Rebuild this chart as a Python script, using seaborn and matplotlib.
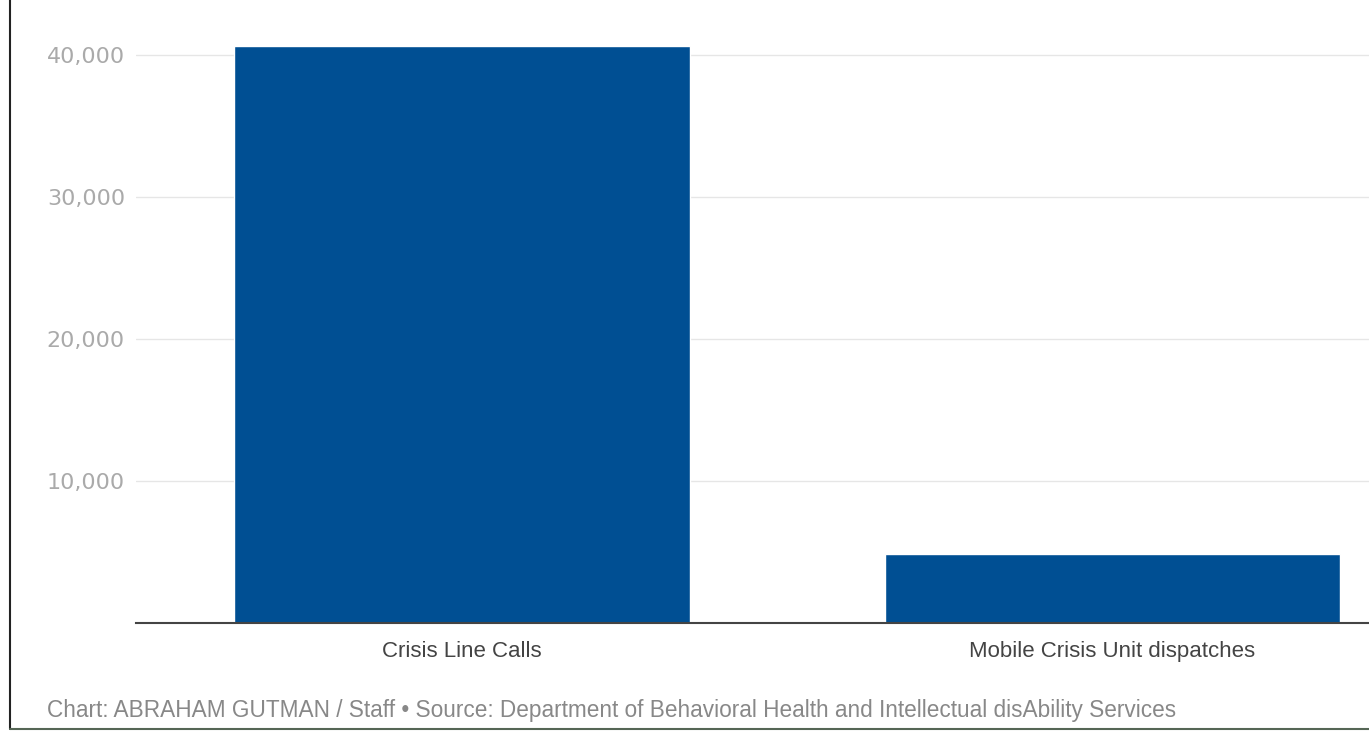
import matplotlib
matplotlib.use("Agg")
import matplotlib.pyplot as plt
import seaborn as sns
import pandas as pd
from matplotlib.lines import Line2D
from matplotlib.ticker import FuncFormatter

categories = ["Crisis Line Calls", "Mobile Crisis Unit dispatches"]
values = [40630, 4860]
yticks = [10000, 20000, 30000, 40000]
footer = "Chart: ABRAHAM GUTMAN / Staff \u2022 Source: Department of Behavioral Health and Intellectual disAbility Services"

df = pd.DataFrame({"category": categories, "value": values})

sns.set_style("white")
plt.rcParams['font.family'] = ['DejaVu Sans']

W, H = 1369, 731
fig = plt.figure(figsize=(W / 100, H / 100), dpi=100)
ax = fig.add_axes([136 / W, (H - 623) / H, 1 - 136 / W, 623 / H])

sns.barplot(data=df, x="category", y="value", color="#004f93", width=0.7,
            saturation=1, ax=ax, zorder=3)

ax.set_xlim(-0.5015, 1.395)
ax.set_ylim(0, 623 / 568 * 40000)
ax.set_yticks(yticks)
ax.yaxis.set_major_formatter(FuncFormatter(lambda v, p: f"{int(v):,}"))
ax.grid(axis="y", color="#e6e6e6", linewidth=1.0, zorder=0)
ax.set_axisbelow(True)
ax.set_xlabel("")
ax.set_ylabel("")
for s in ["top", "right", "left"]:
    ax.spines[s].set_visible(False)
ax.spines["bottom"].set_color("#444444")
ax.spines["bottom"].set_linewidth(1.5)
ax.spines["bottom"].set_zorder(4)
ax.tick_params(axis="y", length=0, pad=8, labelsize=16, labelcolor="#aaaaaa")
ax.tick_params(axis="x", length=0, pad=13, labelsize=16, labelcolor="#444444")
for lbl in ax.get_xticklabels():
    lbl.set_family(["Liberation Sans", "DejaVu Sans"])

fig.text(47 / W, 1 - 710 / H, footer, fontsize=16.3, color="#888888",
         ha="left", va="center", family=["Liberation Sans", "DejaVu Sans"])

fig.add_artist(Line2D([10 / W, 10 / W], [1 - 729 / H, 1.0], transform=fig.transFigure,
                      color="#222222", linewidth=1.5))
fig.add_artist(Line2D([10 / W, 1.0], [1 - 729 / H, 1 - 729 / H], transform=fig.transFigure,
                      color="#556655", linewidth=1.5))

fig.savefig("out.png", dpi=100, facecolor="white")
